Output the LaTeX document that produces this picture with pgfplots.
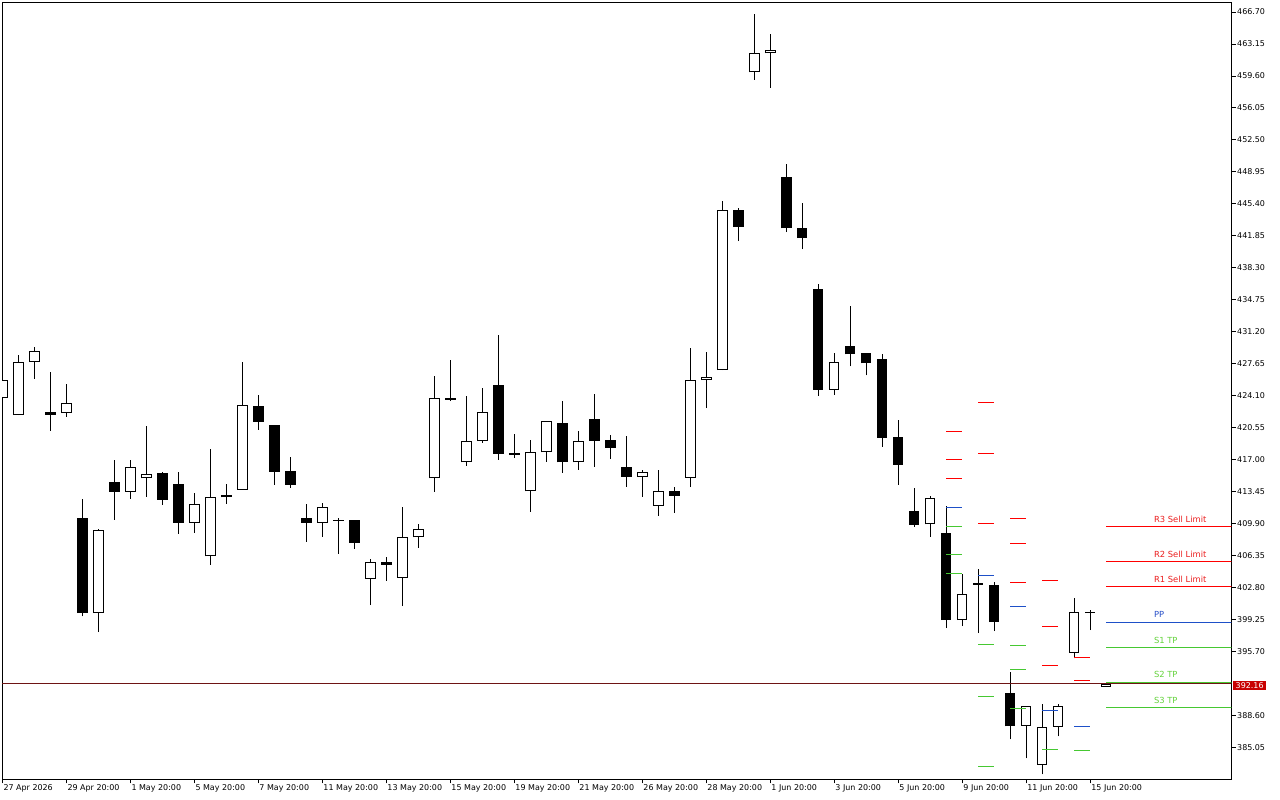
\documentclass[border=0pt]{standalone}
\usepackage{pgfplots}
\usepackage{pgfplotstable}
\usepackage{fontspec}
\setmainfont{DejaVu Sans}
\pgfplotsset{compat=1.18}
\definecolor{pvred}{RGB}{255,0,0}
\definecolor{pvblue}{RGB}{30,80,200}
\definecolor{pvgreen}{RGB}{70,200,50}
\definecolor{lblgreen}{RGB}{100,210,60}
\definecolor{lblred}{RGB}{235,30,30}
\definecolor{lblblue}{RGB}{40,80,200}
\definecolor{pline}{RGB}{110,20,20}
\definecolor{pbox}{RGB}{200,0,0}

\pgfplotstableread{
i o h l c
0 423.84 426.00 423.60 425.84
1 421.95 428.66 421.95 427.85
2 427.85 429.55 426.02 429.07
3 422.32 426.77 420.24 422.02
4 422.17 425.43 421.79 423.29
5 410.49 412.64 399.63 399.99
6 399.99 409.30 397.88 409.16
7 414.50 416.98 410.34 413.45
8 413.45 416.98 412.67 416.17
9 414.94 420.76 412.90 415.39
10 415.50 415.60 412.03 412.56
11 414.28 415.64 408.78 410.00
12 410.00 413.31 408.89 412.05
13 406.27 418.20 405.33 412.83
14 412.83 414.31 412.12 413.05
15 413.67 427.88 413.67 423.06
16 422.95 424.21 420.35 421.24
17 420.84 420.90 414.23 415.68
18 415.72 417.31 413.90 414.23
19 410.49 412.08 407.89 410.00
20 410.00 412.19 408.45 411.72
21 410.30 410.49 406.56 410.25
22 410.27 410.30 407.11 407.78
23 403.82 406.04 400.88 405.60
24 405.60 406.19 403.60 405.33
25 403.93 411.75 400.77 408.38
26 408.38 409.86 407.22 409.27
27 414.94 426.32 413.45 423.84
28 423.84 428.10 423.51 423.69
29 416.72 424.10 416.34 419.06
30 419.06 424.99 418.90 422.32
31 425.32 430.88 417.01 417.68
32 417.76 419.87 417.17 417.57
33 413.50 419.20 411.23 417.83
34 417.83 421.30 416.79 421.28
35 421.06 423.54 415.57 416.72
36 416.72 420.20 415.90 419.06
37 421.51 424.32 416.23 419.13
38 419.17 419.76 417.12 418.35
39 416.17 419.65 414.01 415.12
40 415.12 415.87 412.90 415.61
41 411.90 415.87 410.78 413.50
42 413.50 413.94 411.12 413.01
43 414.98 429.44 413.97 425.88
44 425.84 428.99 422.73 426.18
45 426.96 445.68 426.96 444.75
46 444.75 444.90 441.26 442.82
47 459.99 466.48 459.17 462.11
48 462.11 464.25 458.28 462.44
49 448.35 449.79 442.26 442.67
50 442.78 445.45 440.37 441.59
51 436.00 436.56 424.13 424.80
52 424.80 428.88 424.24 427.88
53 429.66 434.11 427.36 428.69
54 428.88 428.90 426.36 427.69
55 428.21 428.77 418.46 419.46
56 419.54 421.43 414.23 416.46
57 411.31 413.86 409.56 409.78
58 409.83 412.97 408.45 412.72
59 408.86 411.83 398.32 399.21
60 399.21 404.30 398.55 402.07
61 403.30 404.85 397.77 403.15
62 403.15 403.49 397.99 398.99
63 391.06 393.40 385.98 387.42
64 387.47 389.70 383.86 389.69
65 383.13 389.84 382.08 387.36
66 387.36 389.84 386.31 389.69
67 395.59 401.63 394.95 400.15
68 400.15 400.29 398.10 399.99
69 391.81 392.30 391.81 392.16
}\candles

\pgfplotstableread{
x y
59 420.16
59 417.06
59 414.95
61 423.38
61 417.72
61 409.95
63 410.51
63 407.73
63 403.40
65 403.63
65 398.52
65 394.19
67 395.08
67 392.53
}\pivred

\pgfplotstableread{
x y
59 411.73
61 404.18
63 400.74
65 389.20
67 387.42
}\pivblue

\pgfplotstableread{
x y
59 409.62
59 406.51
59 404.40
61 396.52
61 390.75
61 382.98
63 396.41
63 393.75
63 389.42
65 384.87
67 384.76
}\pivgreen

\pgfplotstableread{
x y
69 409.65
69 405.73
69 402.96
}\curred
\pgfplotstableread{
x y
69 398.96
}\curblue
\pgfplotstableread{
x y
69 396.19
69 392.28
69 389.53
}\curgreen

\pgfplotsset{
  ebar/.style={draw=none, mark=none, forget plot},
}

\begin{document}
\begin{tikzpicture}
\begin{axis}[
  at={(0,0)}, anchor=south west, scale only axis,
  width=1229.5bp, height=777bp,
  xmin=-0.02, xmax=76.83, ymin=381.57, ymax=467.81,
  axis line style={black, line width=0.9bp},
  xtick={0,4,...,68},
  xticklabels={27 Apr 2026,29 Apr 20:00,1 May 20:00,5 May 20:00,7 May 20:00,11 May 20:00,13 May 20:00,15 May 20:00,19 May 20:00,21 May 20:00,26 May 20:00,28 May 20:00,1 Jun 20:00,3 Jun 20:00,5 Jun 20:00,9 Jun 20:00,11 Jun 20:00,15 Jun 20:00},
  ytick={466.70,463.15,459.60,456.05,452.50,448.95,445.40,441.85,438.30,434.75,431.20,427.65,424.10,420.55,417.00,413.45,409.90,406.35,402.80,399.25,395.70,388.60,385.05},
  yticklabels={466.70,463.15,459.60,456.05,452.50,448.95,445.40,441.85,438.30,434.75,431.20,427.65,424.10,420.55,417.00,413.45,409.90,406.35,402.80,399.25,395.70,388.60,385.05},
  xtick pos=left, ytick pos=right, yticklabel pos=right,
  tick align=outside, major tick length=4.5bp,
  tick style={black, line width=0.9bp},
  xticklabel style={font=\fontsize{8}{9.6}\selectfont, anchor=north west, inner xsep=1bp, inner ysep=1bp},
  yticklabel style={font=\fontsize{8}{9.6}\selectfont, anchor=west, inner xsep=1bp},
  clip=true,
]
% wicks
\addplot[ebar, error bars/.cd, y dir=plus, y explicit, error mark=none,
  error bar style={draw=black, line width=1bp, line cap=butt}]
  table[x=i, y=l, y error expr={\thisrow{h}-\thisrow{l}}] {\candles};
% bodies (outline / bearish fill)
\addplot[ebar, error bars/.cd, y dir=plus, y explicit, error mark=none,
  error bar style={draw=black, line width=10.5bp, line cap=butt}]
  table[x=i, y expr={min(\thisrow{o},\thisrow{c})}, y error expr={max(abs(\thisrow{c}-\thisrow{o}),0.12)}] {\candles};
% bullish inner fill
\addplot[ebar, error bars/.cd, y dir=plus, y explicit, error mark=none,
  error bar style={draw=white, line width=8.5bp, line cap=butt}]
  table[x=i, y expr={\thisrow{o}+0.11}, y error expr={(\thisrow{c}>\thisrow{o})*max(\thisrow{c}-\thisrow{o}-0.22,0)}] {\candles};
% price line
\addplot[pline, line width=0.8bp, forget plot] coordinates {(-1,392.16) (80,392.16)};
% pivot dashes
\addplot[ebar, error bars/.cd, x dir=plus, x fixed=1, error mark=none,
  error bar style={draw=pvred, line width=1bp, line cap=butt}] table[x=x,y=y] {\pivred};
\addplot[ebar, error bars/.cd, x dir=plus, x fixed=1, error mark=none,
  error bar style={draw=pvblue, line width=1bp, line cap=butt}] table[x=x,y=y] {\pivblue};
\addplot[ebar, error bars/.cd, x dir=plus, x fixed=1, error mark=none,
  error bar style={draw=pvgreen, line width=1bp, line cap=butt}] table[x=x,y=y] {\pivgreen};
% current levels
\addplot[ebar, error bars/.cd, x dir=plus, x fixed=9, error mark=none,
  error bar style={draw=pvred, line width=1bp, line cap=butt}] table[x=x,y=y] {\curred};
\addplot[ebar, error bars/.cd, x dir=plus, x fixed=9, error mark=none,
  error bar style={draw=pvblue, line width=1bp, line cap=butt}] table[x=x,y=y] {\curblue};
\addplot[ebar, error bars/.cd, x dir=plus, x fixed=9, error mark=none,
  error bar style={draw=pvgreen, line width=1bp, line cap=butt}] table[x=x,y=y] {\curgreen};
% labels
\begin{scope}[every node/.style={anchor=west, inner sep=0pt, font=\fontsize{8.4}{10}\selectfont}]
\node[text=lblred] at (axis cs:71.98,410.43) {R3 Sell Limit};
\node[text=lblred] at (axis cs:71.98,406.55) {R2 Sell Limit};
\node[text=lblred] at (axis cs:71.98,403.77) {R1 Sell Limit};
\node[text=lblblue] at (axis cs:71.98,399.81) {PP};
\node[text=lblgreen] at (axis cs:71.98,397.00) {S1 TP};
\node[text=lblgreen] at (axis cs:71.98,393.19) {S2 TP};
\node[text=lblgreen] at (axis cs:71.98,390.34) {S3 TP};
\end{scope}
\end{axis}
\node[fill=pbox, text=white, anchor=west, inner xsep=2.5bp, inner ysep=1.5bp, font=\fontsize{8}{9.6}\selectfont] at (1231bp,{(392.16-381.57)/(467.81-381.57)*777bp - 2bp}) {392.16};
\pgfresetboundingbox
\useasboundingbox (-2bp,-21bp) rectangle (1278bp,779bp);
\end{tikzpicture}
\end{document}
